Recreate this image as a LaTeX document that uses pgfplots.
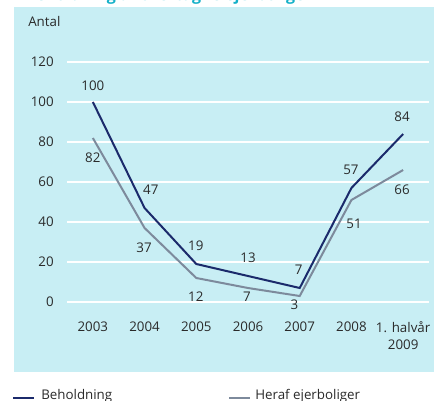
\documentclass[border=0pt]{standalone}
\usepackage{fontspec}
\setmainfont{Open Sans}
\usepackage{pgfplots}
\pgfplotsset{compat=1.18}

\definecolor{panel}{HTML}{C8EEF4}
\definecolor{navy}{HTML}{1B2A6B}
\definecolor{greyline}{HTML}{7D8A9C}
\definecolor{titlecyan}{HTML}{14B0C8}
\definecolor{txt}{HTML}{2A2A2A}

\begin{document}
\begin{tikzpicture}[x=0.75pt,y=0.75pt,font=\fontsize{10}{13.5}\selectfont,text=txt]
\useasboundingbox (0,0) rectangle (434,400);
\fill[panel] (14,28) rectangle (434,393);
% title, mostly cut off by the page edge
\node[anchor=base west,inner sep=0pt,text=titlecyan,font=\bfseries\fontsize{12}{14}\selectfont]
  at (25,399.5) {Beholdning af overtagne ejerboliger};
\node[anchor=base west,inner sep=0pt] at (28,373.5) {Antal};

\begin{axis}[
    at={(50.25pt,73.5pt)}, anchor=south west,
    scale only axis,
    width=271.5pt, height=180pt,
    xmin=-0.5, xmax=6.5, ymin=0, ymax=120,
    axis line style={draw=none},
    major tick style={draw=none},
    ymajorgrids,
    grid style={white, line width=1.3pt},
    ytick={0,20,...,120},
    xtick={0,...,6},
    xticklabels={2003,2004,2005,2006,2007,2008,{1. halvår\\2009}},
    xticklabel style={anchor=north, inner sep=0pt, yshift=-14.5pt, align=center,
      font=\fontsize{10}{12.5}\selectfont},
    yticklabel style={anchor=east, inner sep=0pt, xshift=-9.75pt},
    /pgf/number format/assume math mode=true,
    clip=false,
    ]
\addplot[greyline, line width=1.5pt] coordinates {
  (0,82) (1,37) (2,12) (3,7) (4,3) (5,51) (6,66)};
\addplot[navy, line width=1.5pt] coordinates {
  (0,100) (1,47) (2,19) (3,13) (4,7) (5,57) (6,84)};

% value labels, Beholdning
\node at (axis cs:0,108) {100};
\node at (axis cs:1.12,56) {47};
\node at (axis cs:1.99,28) {19};
\node at (axis cs:3.0,22) {13};
\node at (axis cs:3.98,16) {7};
\node at (axis cs:4.99,66) {57};
\node at (axis cs:5.98,92.5) {84};
% value labels, Heraf ejerboliger
\node at (axis cs:0,72) {82};
\node at (axis cs:0.99,27) {37};
\node at (axis cs:1.99,2.5) {12};
\node at (axis cs:2.98,2.5) {7};
\node at (axis cs:3.9,-1.5) {3};
\node at (axis cs:5.05,39) {51};
\node at (axis cs:5.98,56) {66};
\end{axis}

% legend
\draw[navy, line width=1.6pt] (13,2) -- (34,2);
\node[anchor=base west,inner sep=0pt] at (41,1) {Beholdning};
\draw[greyline, line width=1.6pt] (229,2) -- (250,2);
\node[anchor=base west,inner sep=0pt] at (255,1) {Heraf ejerboliger};
\end{tikzpicture}
\end{document}
